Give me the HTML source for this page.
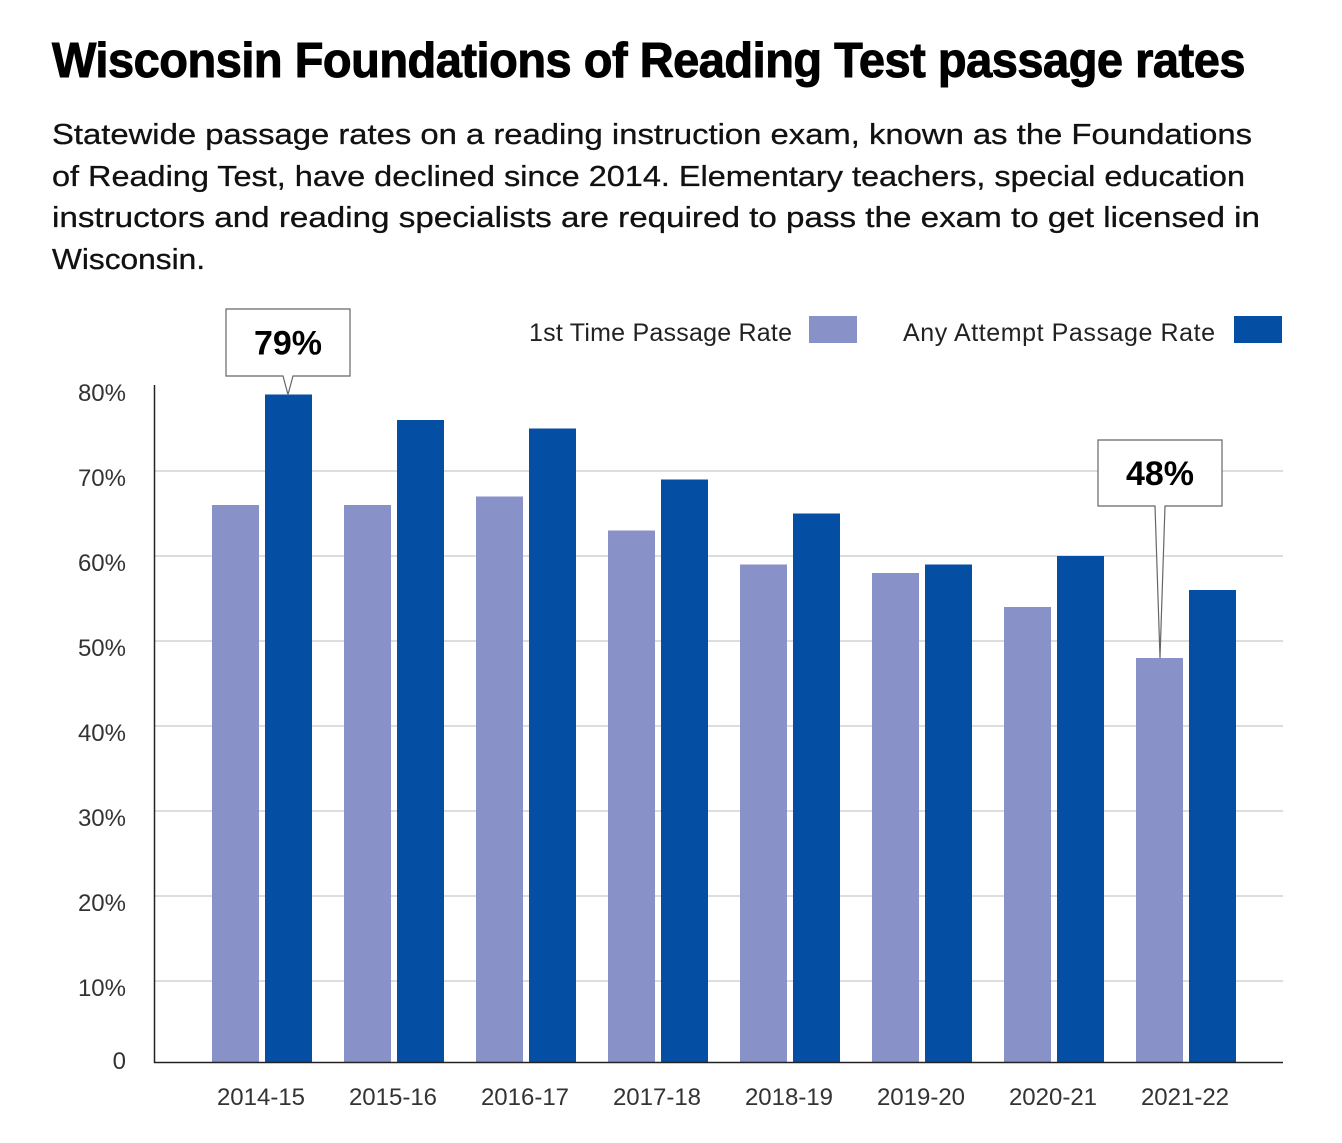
<!DOCTYPE html>
<html><head><meta charset="utf-8"><style>
body{margin:0;background:#fff;width:1342px;height:1143px;overflow:hidden;font-family:"Liberation Sans",sans-serif;}
.ln{position:absolute;left:52px;white-space:nowrap;transform-origin:0 0;}
#title{top:33px;font-size:49px;font-weight:bold;color:#000;letter-spacing:-0.5px;-webkit-text-stroke:1px #000;}
.sub{font-size:29px;color:#111;-webkit-text-stroke:0.3px #111;}
svg{position:absolute;left:0;top:0;}
</style></head><body>
<div id="title" class="ln" data-w="1193">Wisconsin Foundations of Reading Test passage rates</div>
<div>
<div class="ln sub" style="top:119px" data-w="1200">Statewide passage rates on a reading instruction exam, known as the Foundations</div>
<div class="ln sub" style="top:161px" data-w="1193">of Reading Test, have declined since 2014. Elementary teachers, special education</div>
<div class="ln sub" style="top:202px" data-w="1208">instructors and reading specialists are required to pass the exam to get licensed in</div>
<div class="ln sub" style="top:244px" data-w="153">Wisconsin.</div>
</div>
<svg id="chart" width="1342" height="1143"></svg>
<script>
document.querySelectorAll('.ln').forEach(e=>{const w=+e.dataset.w;const s=w/e.getBoundingClientRect().width;e.style.transform='scaleX('+s+')';});
const categories=["2014-15","2015-16","2016-17","2017-18","2018-19","2019-20","2020-21","2021-22"];
const firstTime=[66,66,67,63,59,58,54,48];
const anyAttempt=[79,76,75,69,65,59,60,56];
const yTicks=[0,10,20,30,40,50,60,70,80];
const yTickLabels=["0","10%","20%","30%","40%","50%","60%","70%","80%"];
const NS="http://www.w3.org/2000/svg";
const svg=document.getElementById('chart');
const y=v=>1066-v*8.5;
const gx=i=>212+i*132;
function mk(t,a){const e=document.createElementNS(NS,t);for(const k in a)e.setAttribute(k,a[k]);svg.appendChild(e);return e;}
yTicks.forEach((t,i)=>{
  if(t>0&&t<80){const l=mk('line',{x1:154,x2:1283,y1:y(t),y2:y(t),stroke:'#bbb','stroke-width':1});
  
  }
  const tx=mk('text',{x:126,y:Math.min(y(t),1054)+15,'text-anchor':'end','font-size':24,fill:'#333'});
  tx.textContent=yTickLabels[i];
  
  
});
categories.forEach((c,i)=>{
  const b1=mk('rect',{x:gx(i),y:y(firstTime[i]),width:47,height:1062-y(firstTime[i]),fill:'#8891c8'});
  
  
  const b2=mk('rect',{x:gx(i)+53,y:y(anyAttempt[i]),width:47,height:1062-y(anyAttempt[i]),fill:'#044ea3'});
  
  
  const t=mk('text',{x:gx(i)+49,y:1105,'text-anchor':'middle','font-size':24,fill:'#333'});
  t.textContent=c;
  
  
});
const ax=mk('path',{d:'M154.5 385V1062.5H1283',stroke:'#222','stroke-width':1.5,fill:'none'});


function callout(x0,y0,w,h,tipX,tipY,label,name){
  const cx=x0+w/2;
  const p=mk('path',{d:`M${x0} ${y0}H${x0+w}V${y0+h}H${cx+5}L${tipX} ${tipY}L${cx-5} ${y0+h}H${x0}Z`,fill:'#fff',stroke:'#666','stroke-width':1.2});
  
  
  const t=mk('text',{x:cx,y:y0+h/2+12,'text-anchor':'middle','font-size':34,'font-weight':'bold',fill:'#000'});
  t.textContent=label;
  
  
}
callout(226,309,124,67,288,y(anyAttempt[0]),anyAttempt[0]+'%','callout-max');
callout(1098,440,124,66,1160,y(firstTime[7]),firstTime[7]+'%','callout-min');
const l1=mk('text',{x:792,y:341,'text-anchor':'end','font-size':25,fill:'#222',textLength:263});l1.textContent='1st Time Passage Rate';


const s1=mk('rect',{x:809,y:316,width:48,height:27,fill:'#8891c8'});


const l2=mk('text',{x:1215,y:341,'text-anchor':'end','font-size':25,fill:'#222',textLength:312});l2.textContent='Any Attempt Passage Rate';


const s2=mk('rect',{x:1234,y:316,width:48,height:27,fill:'#044ea3'});


</script>
</body></html>
